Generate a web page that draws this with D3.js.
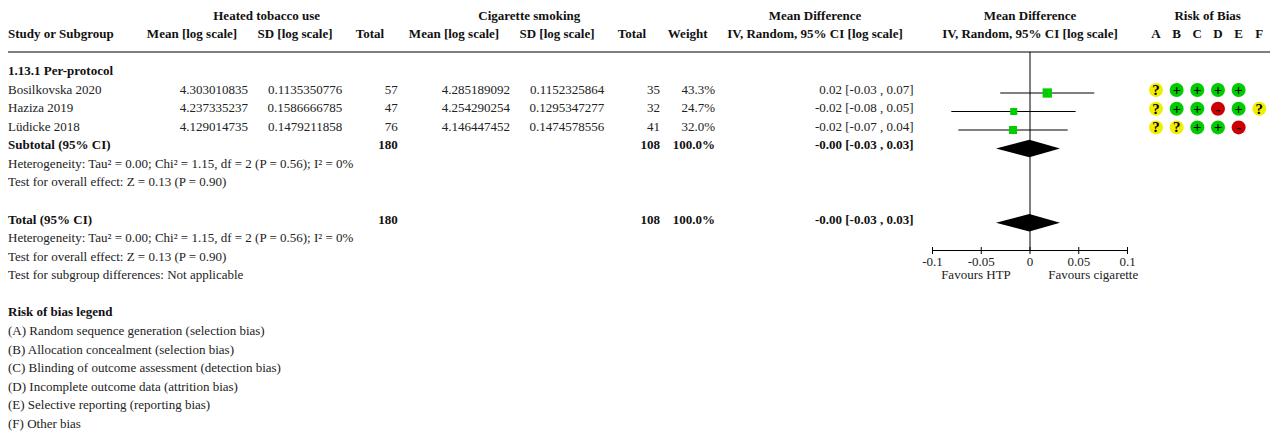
<!DOCTYPE html>
<html>
<head>
<meta charset="utf-8">
<script src="https://cdn.jsdelivr.net/npm/d3@7"></script>
<style>
	html, body { margin: 0; padding: 0; background: #fff; }
	svg { display: block; }
	text { font-family: "Liberation Serif", serif; font-size: 13px; fill: #222; }
	text.b { font-weight: bold; fill: #111; }
</style>
</head>
<body>
<div id="chart"></div>
<script>
const studies = ["Bosilkovska 2020", "Haziza 2019", "Lüdicke 2018"]
const meanHtp = ["4.303010835", "4.237335237", "4.129014735"]
const sdHtp = ["0.1135350776", "0.1586666785", "0.1479211858"]
const totalHtp = [57, 47, 76]
const meanCig = ["4.285189092", "4.254290254", "4.146447452"]
const sdCig = ["0.1152325864", "0.1295347277", "0.1474578556"]
const totalCig = [35, 32, 41]
const weights = [43.3, 24.7, 32.0]
const ciText = ["0.02 [-0.03 , 0.07]", "-0.02 [-0.08 , 0.05]", "-0.02 [-0.07 , 0.04]"]
const effect = [0.0177, -0.0167, -0.0174]
const ciLow = [-0.0305, -0.0807, -0.0735]
const ciHigh = [0.0659, 0.0468, 0.0387]
const pooled = [-0.0007, -0.0349, 0.0308]
const pooledText = "-0.00 [-0.03 , 0.03]"
const tickValues = [-0.1, -0.05, 0, 0.05, 0.1]
const tickLabels = ["-0.1", "-0.05", "0", "0.05", "0.1"]
const riskLetters = ["A", "B", "C", "D", "E", "F"]
const riskRows = [["?", "+", "+", "+", "+", ""], ["?", "+", "+", "-", "+", "?"], ["?", "?", "+", "+", "-", ""]]
const hetText = "Heterogeneity: Tau² = 0.00; Chi² = 1.15, df = 2 (P = 0.56); I² = 0%"
const zText = "Test for overall effect: Z = 0.13 (P = 0.90)"
const legendLines = [
	"(A) Random sequence generation (selection bias)",
	"(B) Allocation concealment (selection bias)",
	"(C) Blinding of outcome assessment (detection bias)",
	"(D) Incomplete outcome data (attrition bias)",
	"(E) Selective reporting (reporting bias)",
	"(F) Other bias"
]

const width = 1272
const height = 432
const riskColors = { "?": "#f2ee00", "+": "#00cc00", "-": "#cc0000" }

const svg = d3.select("#chart").append("svg")
	.attr("width", width)
	.attr("height", height)

// rows of the table, row 0 is the group header line
const rowY = d3.scaleLinear().domain([0, 1]).range([20, 38])
const bodyY = d3.scaleLinear().domain([0, 1]).range([75, 93.57])
const x = d3.scaleLinear().domain([-0.1, 0.1]).range([932.5, 1127.5])
const riskX = d3.scaleLinear().domain([0, 5]).range([1156, 1259.3])

function put(px, py, str, anchor, bold) {
	svg.append("text")
		.attr("x", px)
		.attr("y", py)
		.attr("text-anchor", anchor || "start")
		.attr("class", bold ? "b" : null)
		.text(str)
}

// header
put(266.7, rowY(0), "Heated tobacco use", "middle", true)
put(529.3, rowY(0), "Cigarette smoking", "middle", true)
put(815, rowY(0), "Mean Difference", "middle", true)
put(1030, rowY(0), "Mean Difference", "middle", true)
put(1207.7, rowY(0), "Risk of Bias", "middle", true)

put(8, rowY(1), "Study or Subgroup", "start", true)
put(192, rowY(1), "Mean [log scale]", "middle", true)
put(295, rowY(1), "SD [log scale]", "middle", true)
put(370, rowY(1), "Total", "middle", true)
put(454, rowY(1), "Mean [log scale]", "middle", true)
put(557, rowY(1), "SD [log scale]", "middle", true)
put(632, rowY(1), "Total", "middle", true)
put(687.7, rowY(1), "Weight", "middle", true)
put(815, rowY(1), "IV, Random, 95% CI [log scale]", "middle", true)
put(1030, rowY(1), "IV, Random, 95% CI [log scale]", "middle", true)
riskLetters.forEach((l, i) => put(riskX(i), rowY(1), l, "middle", true))

svg.append("line")
	.attr("x1", 8).attr("x2", 1270)
	.attr("y1", 52).attr("y2", 52)
	.attr("stroke", "#000")

// body text
put(8, bodyY(0), "1.13.1 Per-protocol", "start", true)
studies.forEach((s, i) => {
	const y = bodyY(i + 1)
	put(8, y, s)
	put(248, y, meanHtp[i], "end")
	put(342.3, y, sdHtp[i], "end")
	put(397.7, y, totalHtp[i], "end")
	put(510, y, meanCig[i], "end")
	put(604.3, y, sdCig[i], "end")
	put(660, y, totalCig[i], "end")
	put(715, y, weights[i].toFixed(1) + "%", "end")
	put(913.5, y, ciText[i], "end")
})

const totals = [4, 8]
totals.forEach((r, i) => {
	const y = bodyY(r)
	put(8, y, i == 0 ? "Subtotal (95% CI)" : "Total (95% CI)", "start", true)
	put(397.7, y, d3.sum(totalHtp), "end", true)
	put(660, y, d3.sum(totalCig), "end", true)
	put(715, y, d3.sum(weights).toFixed(1) + "%", "end", true)
	put(913.5, y, pooledText, "end", true)
})

put(8, bodyY(5), hetText)
put(8, bodyY(6), zText)
put(8, bodyY(9), hetText)
put(8, bodyY(10), zText)
put(8, bodyY(11), "Test for subgroup differences: Not applicable")

put(8, bodyY(13), "Risk of bias legend", "start", true)
legendLines.forEach((l, i) => put(8, bodyY(14 + i), l))

// forest plot
svg.append("line")
	.attr("x1", x(0)).attr("x2", x(0))
	.attr("y1", 52).attr("y2", 251)
	.attr("stroke", "#000")

const markY = d3.scaleLinear().domain([0, 1]).range([93, 111.5])

studies.forEach((s, i) => {
	const y = markY(i)
	svg.append("line")
		.attr("x1", x(ciLow[i])).attr("x2", x(ciHigh[i]))
		.attr("y1", y).attr("y2", y)
		.attr("stroke", "#000")
	const size = 1.41 * Math.sqrt(weights[i])
	svg.append("rect")
		.attr("x", x(effect[i]) - size / 2)
		.attr("y", y - size / 2)
		.attr("width", size)
		.attr("height", size)
		.attr("fill", "#00cc00")
})

const diamond = d3.line()
	.x(d => x(d[0]))
	.y(d => d[1])

;[148.5, 222.7].forEach(y => {
	svg.append("path")
		.attr("d", diamond([[pooled[1], y], [pooled[0], y - 8.7], [pooled[2], y], [pooled[0], y + 8.7]]) + "Z")
		.attr("fill", "#000")
})

const axis = d3.axisBottom(x)
	.tickValues(tickValues)
	.tickFormat((d, i) => tickLabels[i])
	.tickSize(0)
	.offset(0)

const axisGroup = svg.append("g")
	.attr("transform", "translate(0, 250.5)")
	.call(axis)

axisGroup.select(".domain").attr("stroke", "#000")
axisGroup.selectAll(".tick line")
	.attr("y1", -3.5)
	.attr("y2", 3.5)
	.attr("stroke", "#000")
axisGroup.selectAll(".tick text")
	.attr("y", 6.5)
	.attr("dy", "0.71em")
	.style("font-size", "13px")
	.style("font-family", '"Liberation Serif", serif')
	.attr("fill", "#222")

put(976, 279, "Favours HTP", "middle")
put(1093.3, 279, "Favours cigarette", "middle")

// risk of bias dots
riskRows.forEach((row, r) => {
	const y = d3.scaleLinear().domain([0, 1]).range([90, 108.7])(r)
	row.forEach((sign, c) => {
		if (!sign) return
		svg.append("circle")
			.attr("cx", riskX(c))
			.attr("cy", y)
			.attr("r", 7)
			.attr("fill", riskColors[sign])
		svg.append("text")
			.attr("class", "b")
			.attr("x", riskX(c))
			.attr("y", y + 5)
			.attr("text-anchor", "middle")
			.style("fill", "#000")
			.style("font-size", "15px")
			.text(sign)
	})
})
</script>
</body>
</html>
